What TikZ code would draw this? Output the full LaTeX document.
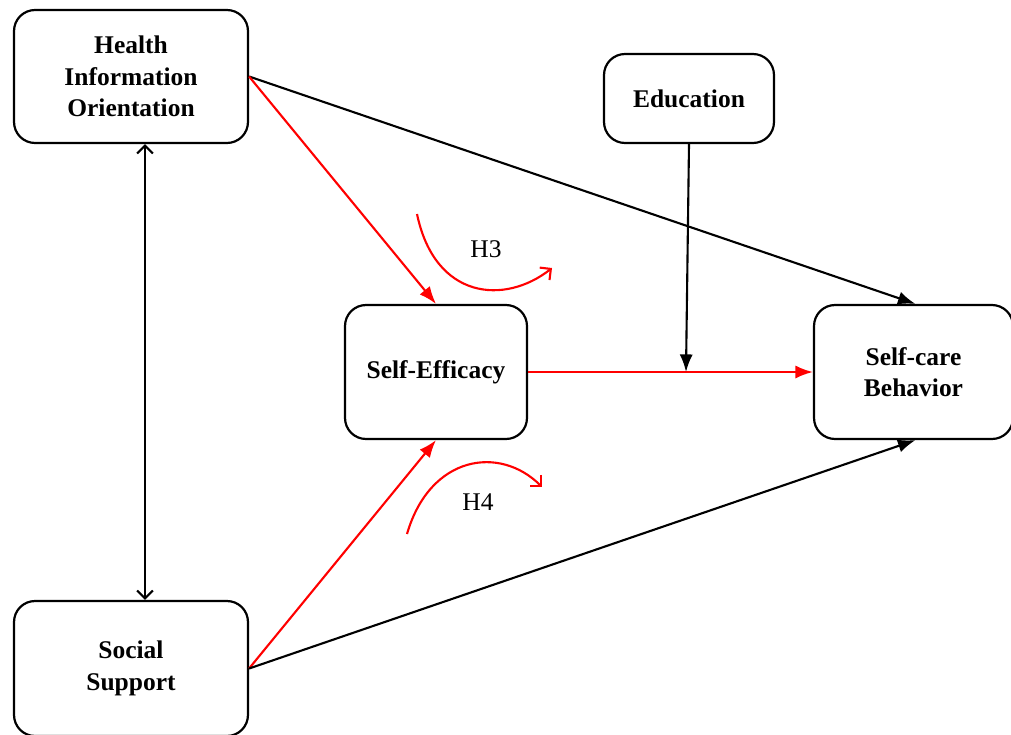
\documentclass[tikz,border=0pt]{standalone}
\usepackage{fontspec}
\setmainfont{Liberation Serif}
\usetikzlibrary{arrows.meta}
\tikzset{
  varbox/.style={draw,line width=1.25pt,rounded corners=0.42cm,align=center,
    font=\fontsize{14.5}{18}\selectfont\bfseries,inner sep=2pt},
  redpath/.style={red,line width=1.2pt,-{Latex[length=10pt,width=7.5pt]}},
  blackpath/.style={black,line width=1.2pt,-{Latex[length=10pt,width=7.5pt]}},
  hyppath/.style={red,line width=1.2pt,-{Straight Barb[length=4.5pt,width=9pt]}},
  hyplabel/.style={font=\fontsize{14.5}{18}\selectfont}
}
\begin{document}
\begin{tikzpicture}[x=0.02cm,y=-0.02cm]
\useasboundingbox (0,0) rectangle (1011,734);
\node[varbox,minimum width=4.68cm,minimum height=2.66cm] (hio) at (131,76.5) {Health\\Information\\Orientation};
\node[varbox,minimum width=3.4cm,minimum height=1.78cm] (edu) at (689,98.5) {Education};
\node[varbox,minimum width=3.64cm,minimum height=2.68cm] (se) at (436,372) {Self-Efficacy};
\node[varbox,minimum width=3.98cm,minimum height=2.68cm] (sc) at (913.5,372) {Self-care\\Behavior};
\node[varbox,minimum width=4.68cm,minimum height=2.7cm] (ss) at (131,668.5) {Social\\Support};

\coordinate (meet) at (686,372);
\coordinate (h3a) at (417,214);
\coordinate (h3b) at (552,268);
\coordinate (h4a) at (407,534);
\coordinate (h4b) at (542,487);

\draw[line width=1.2pt,{Straight Barb[length=4.5pt,width=9pt]}-{Straight Barb[length=4.5pt,width=9pt]}]
  ([xshift=0.28cm]hio.south) -- ([xshift=0.28cm]ss.north);
\path[blackpath] (hio.east) edge ([xshift=0.04cm]sc.north);
\path[redpath] (hio.east) edge (se.north);
\path[redpath] (ss.east) edge (se.south);
\path[blackpath] (ss.east) edge ([xshift=0.04cm]sc.south);
\path[redpath] (se.east) edge (sc.west);
\path[blackpath] (edu.south) edge (meet);

\draw[hyppath] (h3a) .. controls (435,300) and (505,305) .. (h3b);
\draw[hyppath] (h4a) .. controls (430,455) and (500,445) .. (h4b);
\node[hyplabel] (h3) at (486,249) {H3};
\node[hyplabel] (h4) at (478,502) {H4};
\end{tikzpicture}
\end{document}
